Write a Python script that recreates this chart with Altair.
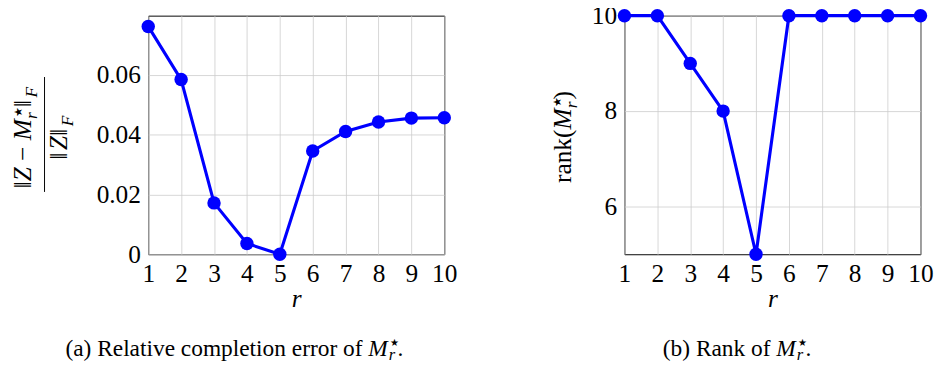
import altair as alt
import pandas as pd

# ---- data ----
r_vals = [1, 2, 3, 4, 5, 6, 7, 8, 9, 10]
rel_err = [0.0763, 0.0585, 0.0172, 0.0036, 0.0, 0.0346, 0.0411, 0.0443, 0.0456, 0.0457]
rank_vals = [10, 10, 9, 8, 5, 10, 10, 10, 10, 10]
err_ticks = [0, 0.02, 0.04, 0.06]
rank_ticks = [6, 8, 10]

FONT = "Liberation Serif"
BLUE = "#0000ff"
W, H = 304, 245

df_err = pd.DataFrame({"r": r_vals, "v": rel_err})
df_rank = pd.DataFrame({"r": r_vals, "v": rank_vals})
one = alt.Data(values=[{"k": 0}])


def txt(s, x, y, size=26, italic=False, angle=0, align="left", baseline="alphabetic"):
    kw = dict(text=s, font=FONT, fontSize=size, align=align, baseline=baseline,
              color="black", fontStyle="italic" if italic else "normal")
    if angle:
        kw["angle"] = angle
    return alt.Chart(one).mark_text(**kw).encode(x=alt.value(x), y=alt.value(y))


x_enc = alt.X("r:Q", scale=alt.Scale(domain=[1, 10], nice=False),
              axis=alt.Axis(values=r_vals, format="d", title="r", titleFontStyle="italic",
                            titlePadding=0, labelFlush=False,
                            labelFont=FONT, titleFont=FONT))


def panel(df, yscale, yaxis):
    base = alt.Chart(df).encode(x=x_enc, y=alt.Y("v:Q", scale=yscale, axis=yaxis))
    line = base.mark_line(color=BLUE, strokeWidth=3.2)
    pts = base.mark_point(filled=True, color=BLUE, size=190, opacity=1)
    return line + pts


# ---------- left panel ----------
left_data = panel(
    df_err,
    alt.Scale(domain=[0, 0.0799], nice=False),
    alt.Axis(values=err_ticks, title=None, labelFlush=False, labelFont=FONT,
             labelExpr="datum.value == 0 ? '0' : format(datum.value, '.2f')"),
)

# fraction label (rotated)
nb, ns, nsup = -120, -114, -130   # numerator baselines (x)
db, ds = -83, -77                 # denominator baselines (x)
yM = 128
num = [
    txt("\u2212", nb, yM + 6.5, angle=270, align="right"),
    txt("Z", nb, yM + 27.7, italic=True, angle=270, align="right"),
    txt("\u2016", nb, yM + 42.2, angle=270, align="right"),
    txt("M", nb, yM, italic=True, angle=270, align="left"),
    txt("\u2605", nsup, yM - 23.5, size=11, angle=270, align="left"),
    txt("r", ns, yM - 22, size=18, italic=True, angle=270, align="left"),
    txt("\u2016", nb, yM - 34, angle=270, align="left"),
    txt("F", ns, yM - 44, size=18, italic=True, angle=270, align="left"),
]
den = [
    txt("\u2016", db, 148, angle=270, align="left"),
    txt("Z", db, 138, italic=True, angle=270, align="left"),
    txt("\u2016", db, 123.5, angle=270, align="left"),
    txt("F", ds, 113.5, size=18, italic=True, angle=270, align="left"),
]
frac_line = alt.Chart(one).mark_rule(color="black", strokeWidth=1).encode(
    x=alt.value(-106.5), y=alt.value(63), y2=alt.value(181))

capL_M = 226
capY = 349
capL = [
    txt("(a) Relative completion error of", capL_M - 6, capY, size=24, align="right"),
    txt("M", capL_M, capY, size=24, italic=True),
    txt("\u2605", capL_M + 22, capY - 10, size=10),
    txt("r", capL_M + 21, capY + 5, size=17, italic=True),
    txt(".", capL_M + 30, capY, size=24),
]

left = alt.layer(left_data, frac_line, *num, *den, *capL).properties(width=W, height=H)

# ---------- right panel ----------
right_data = panel(
    df_rank,
    alt.Scale(domain=[5, 10], nice=False),
    alt.Axis(values=rank_ticks, title=None, format="d", labelFlush=False, labelFont=FONT),
)
rb, rs, rsup = -55, -49, -65
yR = 117
rlab = [
    txt("rank(", rb, yR, angle=270, align="right"),
    txt("M", rb, yR, italic=True, angle=270, align="left"),
    txt("\u2605", rsup, yR - 23.5, size=11, angle=270, align="left"),
    txt("r", rs, yR - 22, size=18, italic=True, angle=270, align="left"),
    txt(")", rb, yR - 31, angle=270, align="left"),
]
capR_M = 156
capR = [
    txt("(b) Rank of", capR_M - 6, capY, size=24, align="right"),
    txt("M", capR_M, capY, size=24, italic=True),
    txt("\u2605", capR_M + 22, capY - 10, size=10),
    txt("r", capR_M + 21, capY + 5, size=17, italic=True),
    txt(".", capR_M + 30, capY, size=24),
]
right = alt.layer(right_data, *rlab, *capR).properties(width=W, height=H)

chart = alt.hconcat(left, right, spacing=185, bounds="flush").configure(
    font=FONT,
    padding={"left": 2, "top": -11, "right": 5, "bottom": 2},
).configure_view(
    stroke="black", strokeWidth=1
).configure_axis(
    labelFont=FONT, labelFontSize=26, labelColor="black",
    titleFont=FONT, titleFontSize=26, titleColor="black", titleFontWeight="normal",
    grid=True, gridColor="#cccccc", gridWidth=0.8,
    domain=False, ticks=False, labelPadding=8,
).configure_axisX(labelPadding=7)

chart.save("out.html", embed_options={"renderer": "svg", "actions": False})
